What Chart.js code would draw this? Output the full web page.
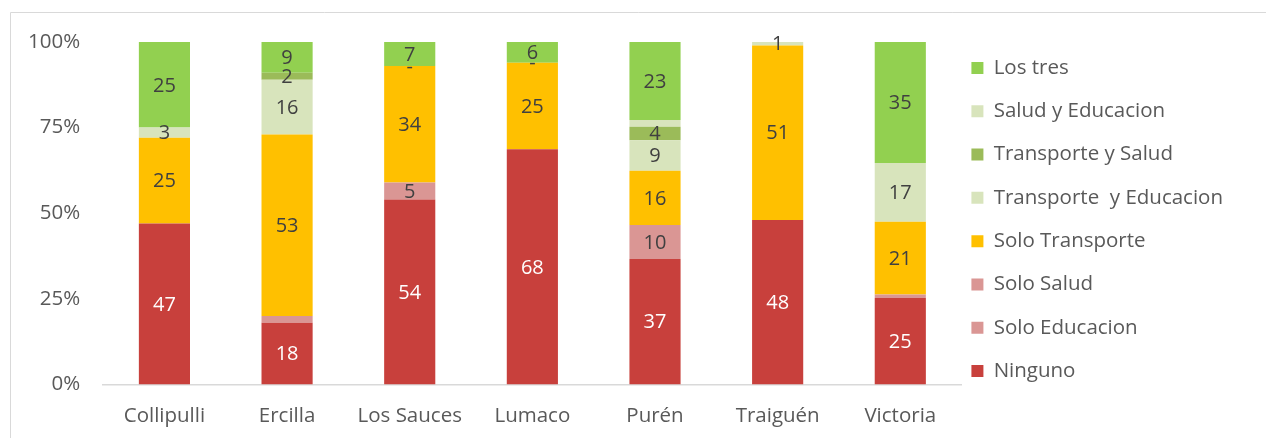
<!DOCTYPE html>
<html lang="es">
<head>
    <meta charset="UTF-8">
    <title>Comunas - acceso a servicios</title>
    <script src="https://cdn.jsdelivr.net/npm/chart.js@4/dist/chart.umd.min.js"></script>
    <style>
        html, body { margin: 0; padding: 0; background: #fff; }
        #wrap { width: 1266px; height: 438px; }
    </style>
</head>
<body>
    <div id="wrap"><canvas id="grafico"></canvas></div>
    <script>
        // comunas
        const comunas = ['Collipulli', 'Ercilla', 'Los Sauces', 'Lumaco', 'Purén', 'Traiguén', 'Victoria'];

        // valores por serie (de abajo hacia arriba)
        const ninguno        = [47, 18, 54, 68, 37, 48, 25];
        const soloEducacion  = [null, 2, null, null, null, null, 1];
        const soloSalud      = [null, null, 5, null, 10, null, null];
        const soloTransporte = [25, 53, 34, 25, 16, 51, 21];
        const transpEduc     = [3, 16, 0, 0, 9, 1, 17];
        const transpSalud    = [null, 2, null, null, 4, null, null];
        const saludEduc      = [null, null, null, null, 2, null, null];
        const losTres        = [25, 9, 7, 6, 23, null, 35];

        // segmentos sin etiqueta en el original
        const sinEtiqueta = ['Solo Educacion|Ercilla', 'Solo Educacion|Victoria', 'Salud y Educacion|Purén'];

        const yTicks = [0, 25, 50, 75, 100];

        const series = [
            { label: 'Ninguno', data: ninguno, color: '#c8403c', texto: '#ffffff' },
            { label: 'Solo Educacion', data: soloEducacion, color: '#da9694', texto: '#404040' },
            { label: 'Solo Salud', data: soloSalud, color: '#da9694', texto: '#404040' },
            { label: 'Solo Transporte', data: soloTransporte, color: '#ffc000', texto: '#404040' },
            { label: 'Transporte  y Educacion', data: transpEduc, color: '#d8e4bc', texto: '#404040' },
            { label: 'Transporte y Salud', data: transpSalud, color: '#9bbb59', texto: '#404040' },
            { label: 'Salud y Educacion', data: saludEduc, color: '#d8e4bc', texto: '#404040' },
            { label: 'Los tres', data: losTres, color: '#92d050', texto: '#404040' }
        ];

        // total por comuna para el 100% apilado
        const totales = comunas.map((c, i) => series.reduce((s, d) => s + (d.data[i] || 0), 0));

        const FUENTE = '"Open Sans", sans-serif';
        const TAM = 20.5;
        const GRIS = '#595959';

        // marco del area del grafico (borde izq. y superior)
        const marco = {
            id: 'marco',
            beforeDraw(chart) {
                const ctx = chart.ctx;
                ctx.save();
                ctx.strokeStyle = '#d9d9d9';
                ctx.lineWidth = 1;
                ctx.beginPath();
                ctx.moveTo(10.5, chart.height);
                ctx.lineTo(10.5, 12.5);
                ctx.lineTo(chart.width, 12.5);
                ctx.stroke();
                ctx.restore();
            }
        };

        // acerca la leyenda a las barras y la centra en el alto total
        const moverLeyenda = {
            id: 'moverLeyenda',
            afterLayout(chart) {
                chart.legend.left -= 13;
                chart.legend.right -= 13;
                chart.legend.top -= 25;
                chart.legend.bottom -= 25;
            }
        };

        // etiquetas de datos dentro de cada segmento
        const etiquetas = {
            id: 'etiquetas',
            afterDatasetsDraw(chart) {
                const ctx = chart.ctx;
                ctx.save();
                ctx.font = '20px ' + FUENTE;
                ctx.textAlign = 'center';
                ctx.textBaseline = 'middle';
                chart.data.datasets.forEach((ds, di) => {
                    const meta = chart.getDatasetMeta(di);
                    meta.data.forEach((bar, i) => {
                        const v = ds.crudo[i];
                        if (v === null || v === undefined) return;
                        if (sinEtiqueta.includes(ds.label + '|' + comunas[i])) return;
                        const p = bar.getProps(['x', 'y', 'base'], true);
                        ctx.fillStyle = ds.texto;
                        ctx.fillText(v === 0 ? '-' : String(v), p.x, (p.y + p.base) / 2 + 1);
                    });
                });
                ctx.restore();
            }
        };

        const ctx = document.getElementById('grafico').getContext('2d');
        new Chart(ctx, {
            type: 'bar',
            data: {
                labels: comunas,
                datasets: series.map(s => ({
                    label: s.label,
                    data: s.data.map((v, i) => v === null ? null : v / totales[i] * 100),
                    crudo: s.data,
                    texto: s.texto,
                    backgroundColor: s.color,
                    borderWidth: 0,
                    categoryPercentage: 1,
                    barPercentage: 0.417
                }))
            },
            options: {
                responsive: true,
                maintainAspectRatio: false,
                animation: false,
                layout: { padding: { top: 42, left: 5, right: 20, bottom: -9 } },
                plugins: {
                    tooltip: { enabled: false },
                    legend: {
                        position: 'right',
                        reverse: true,
                        labels: {
                            boxWidth: 12,
                            boxHeight: 12,
                            padding: 22.8,
                            color: GRIS,
                            font: { family: FUENTE, size: TAM }
                        }
                    }
                },
                scales: {
                    x: {
                        stacked: true,
                        grid: { display: false, drawTicks: false },
                        border: { display: true, color: '#d9d9d9', width: 1.5 },
                        ticks: { color: GRIS, padding: 19, font: { family: FUENTE, size: TAM } }
                    },
                    y: {
                        stacked: true,
                        min: 0,
                        max: 100,
                        afterBuildTicks(scale) {
                            scale.ticks = yTicks.map(v => ({ value: v }));
                        },
                        grid: { display: false, drawTicks: false },
                        border: { display: false },
                        ticks: {
                            color: GRIS,
                            padding: 23,
                            font: { family: FUENTE, size: TAM },
                            callback: v => v + '%'
                        }
                    }
                }
            },
            plugins: [marco, moverLeyenda, etiquetas]
        });
    </script>
</body>
</html>
